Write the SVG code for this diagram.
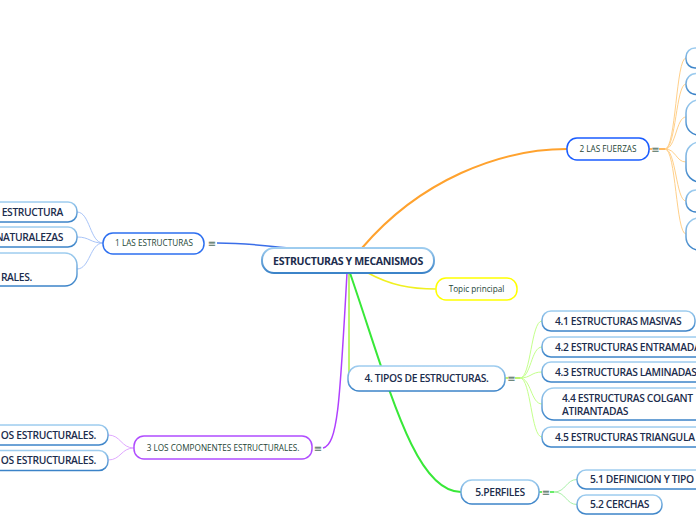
<svg xmlns="http://www.w3.org/2000/svg" width="696" height="520" viewBox="0 0 696 520">
<defs>
<linearGradient id="gb" x1="0" y1="0" x2="0" y2="1">
<stop offset="0" stop-color="#9fcdef"/>
<stop offset="1" stop-color="#3b83c8"/>
</linearGradient>
<style>
.bg{fill:#ffffff}
.child{fill:#ffffff;stroke:url(#gb);stroke-width:1.5}
.main{fill:#ffffff;stroke-width:1.5}
.ct{font-family:"Open Sans","Noto Sans",sans-serif;font-weight:600;font-size:10.3px;letter-spacing:-0.35px;fill:#1c2d4d}
.mt{font-family:"Open Sans","Noto Sans",sans-serif;font-weight:500;font-size:8.2px;fill:#1e4636}
.eq{font-family:"DejaVu Sans",sans-serif;font-size:10px;fill:#4f6e60;text-anchor:middle}
.c{fill:none}
</style>
</defs>
<rect class="bg" x="0" y="0" width="696" height="520"/>
<g id="connectors">
<path class="c" d="M217,243 C250,243 262,246 292,248" stroke="#3a6ee8" stroke-width="1.5"/>
<path class="c" d="M103,243 C90,243 90,212 77,212" stroke="#a8c4f8" stroke-width="1"/>
<path class="c" d="M103,243 C90,243 90,237 77,237" stroke="#a8c4f8" stroke-width="1"/>
<path class="c" d="M103,243 C90,243 90,269 77,269" stroke="#a8c4f8" stroke-width="1"/>
<path class="c" d="M362,248 C420,180 500,149 567,149" stroke="#ffa22e" stroke-width="2"/>
<path class="c" d="M649,149 L652,149 M659,149 L665,149" stroke="#ffa22e" stroke-width="1.5"/>
<path class="c" d="M665,149 C676,149 676,58 686,58" stroke="#ffd08a" stroke-width="1"/>
<path class="c" d="M665,149 C676,149 676,84 686,84" stroke="#ffd08a" stroke-width="1"/>
<path class="c" d="M665,149 C676,149 676,117 686,117" stroke="#ffd08a" stroke-width="1"/>
<path class="c" d="M665,149 C676,149 676,162 686,162" stroke="#ffd08a" stroke-width="1"/>
<path class="c" d="M665,149 C676,149 676,201 686,201" stroke="#ffd08a" stroke-width="1"/>
<path class="c" d="M665,149 C676,149 676,234 686,234" stroke="#ffd08a" stroke-width="1"/>
<path class="c" d="M368,273 C390,285 410,289 436,289" stroke="#f0f020" stroke-width="1.5"/>
<path class="c" d="M349,273 L349,378" stroke="#a8f040" stroke-width="1.5"/>
<path class="c" d="M505,378 L508,378 M515,378 L520,378" stroke="#a8f040" stroke-width="1.5"/>
<path class="c" d="M520,378 C531,378 531,321 542,321" stroke="#c4ff8c" stroke-width="1"/>
<path class="c" d="M520,378 C531,378 531,347 542,347" stroke="#c4ff8c" stroke-width="1"/>
<path class="c" d="M520,378 C531,378 531,372 542,372" stroke="#c4ff8c" stroke-width="1"/>
<path class="c" d="M520,378 C531,378 531,404 542,404" stroke="#c4ff8c" stroke-width="1"/>
<path class="c" d="M520,378 C531,378 531,437 542,437" stroke="#c4ff8c" stroke-width="1"/>
<path class="c" d="M350,273 C390,390 415,492 461,492" stroke="#38e838" stroke-width="2"/>
<path class="c" d="M539,492 L542,492 M550,492 L554,492" stroke="#38e838" stroke-width="1.5"/>
<path class="c" d="M554,492 C566,492 566,479.5 577,479.5" stroke="#a8f0a8" stroke-width="1"/>
<path class="c" d="M554,492 C566,492 566,504.5 577,504.5" stroke="#a8f0a8" stroke-width="1"/>
<path class="c" d="M347,273 C340,400 338,445 323,448" stroke="#b040ff" stroke-width="1.5"/>
<path class="c" d="M134,448 C121,448 121,435 108,435" stroke="#e0a8ff" stroke-width="1"/>
<path class="c" d="M134,448 C121,448 121,460 108,460" stroke="#e0a8ff" stroke-width="1"/>
</g>
<g id="central">
<rect x="262" y="248" width="172" height="25" rx="12" fill="#ffffff" stroke="url(#gb)" stroke-width="2"/>
<text x="348" y="264.5" text-anchor="middle" font-family="Open Sans, Noto Sans, sans-serif" font-weight="700" font-size="10.6" letter-spacing="-0.35" fill="#1c2d4d">ESTRUCTURAS Y MECANISMOS</text>
</g>
<g id="n1">
<rect class="main" x="103" y="233" width="101" height="21" rx="10" stroke="#2d6ff0"/>
<text class="mt" x="154" y="246.3" text-anchor="middle">1 LAS ESTRUCTURAS</text>
<text class="eq" x="212" y="246.5">≡</text>
</g>
<g id="n1a">
<rect class="child" x="-100" y="202" width="177" height="20" rx="9"/>
<text class="ct" x="63" y="215.5" text-anchor="end">ESTRUCTURA</text>
</g>
<g id="n1b">
<rect class="child" x="-100" y="227" width="177" height="20" rx="9"/>
<text class="ct" x="63" y="240.5" text-anchor="end">NATURALEZAS</text>
</g>
<g id="n1c">
<rect class="child" x="-100" y="253" width="177" height="33" rx="12"/>
<text class="ct" x="32" y="280.5" text-anchor="end">RALES.</text>
</g>
<g id="n2">
<rect class="main" x="567" y="138" width="82" height="22" rx="10" stroke="#1a5cff"/>
<text class="mt" x="608" y="152" text-anchor="middle">2 LAS FUERZAS</text>
<text class="eq" x="655.5" y="152.5">≡</text>
</g>
<g id="n2a"><rect class="child" x="686" y="48" width="100" height="20" rx="9"/></g>
<g id="n2b"><rect class="child" x="686" y="73.5" width="100" height="21" rx="10"/></g>
<g id="n2c"><rect class="child" x="686" y="100" width="100" height="35" rx="13"/></g>
<g id="n2d"><rect class="child" x="686" y="142" width="100" height="40" rx="14"/></g>
<g id="n2e"><rect class="child" x="686" y="190" width="100" height="22" rx="10"/></g>
<g id="n2f"><rect class="child" x="686" y="218" width="100" height="32" rx="13"/></g>
<g id="topic">
<rect class="main" x="436" y="278" width="81" height="22" rx="10" stroke="#ffff00"/>
<text class="mt" x="476.5" y="292" text-anchor="middle">Topic principal</text>
</g>
<g id="n4">
<rect class="child" x="348" y="366" width="157" height="25" rx="11"/>
<text class="ct" x="426.5" y="382.3" text-anchor="middle" font-size="11" letter-spacing="-0.3">4. TIPOS DE ESTRUCTURAS.</text>
<text class="eq" x="511.5" y="381.5">≡</text>
</g>
<g id="n41">
<rect class="child" x="542" y="311" width="153" height="20" rx="9"/>
<text class="ct" x="555" y="324.7">4.1 ESTRUCTURAS MASIVAS</text>
</g>
<g id="n42">
<rect class="child" x="542" y="337" width="200" height="20" rx="9"/>
<text class="ct" x="555" y="350.7">4.2 ESTRUCTURAS ENTRAMADA</text>
</g>
<g id="n43">
<rect class="child" x="542" y="362" width="200" height="20" rx="9"/>
<text class="ct" x="555" y="375.7">4.3 ESTRUCTURAS LAMINADAS</text>
</g>
<g id="n44">
<rect class="child" x="542" y="388" width="200" height="32" rx="12"/>
<text class="ct" x="562" y="402.2">4.4 ESTRUCTURAS COLGANT</text>
<text class="ct" x="562" y="414.7">ATIRANTADAS</text>
</g>
<g id="n45">
<rect class="child" x="542" y="427" width="200" height="20" rx="9"/>
<text class="ct" x="555" y="440.7">4.5 ESTRUCTURAS TRIANGULA</text>
</g>
<g id="n3">
<rect class="main" x="134" y="436" width="178" height="23" rx="10" stroke="#b04cff"/>
<text class="mt" x="223" y="450.8" text-anchor="middle">3 LOS COMPONENTES ESTRUCTURALES.</text>
<text class="eq" x="318" y="451.5">≡</text>
</g>
<g id="n3a">
<rect class="child" x="-100" y="425" width="208" height="20" rx="9"/>
<text class="ct" x="96" y="438.7" text-anchor="end">OS ESTRUCTURALES.</text>
</g>
<g id="n3b">
<rect class="child" x="-100" y="450.5" width="208" height="20" rx="9"/>
<text class="ct" x="96" y="464.2" text-anchor="end">OS ESTRUCTURALES.</text>
</g>
<g id="n5">
<rect class="child" x="461" y="480" width="78" height="24" rx="11"/>
<text class="ct" x="500" y="495.7" text-anchor="middle">5.PERFILES</text>
<text class="eq" x="546" y="495.5">≡</text>
</g>
<g id="n51">
<rect class="child" x="577" y="470" width="200" height="19" rx="9"/>
<text class="ct" x="590" y="483.2">5.1 DEFINICION Y TIPO</text>
</g>
<g id="n52">
<rect class="child" x="577" y="495" width="85" height="19" rx="9"/>
<text class="ct" x="590" y="508.2">5.2 CERCHAS</text>
</g>
</svg>
